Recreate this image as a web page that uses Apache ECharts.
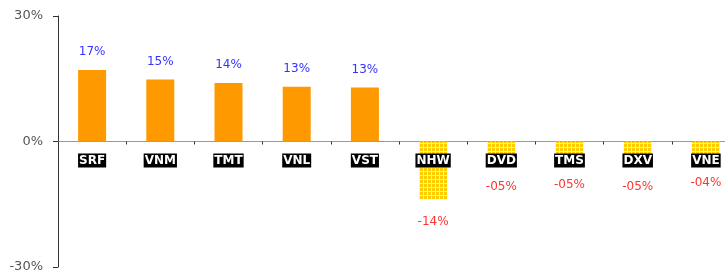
<!DOCTYPE html>
<html>
<head>
<meta charset="utf-8">
<script src="https://cdn.jsdelivr.net/npm/echarts@6/dist/echarts.min.js"></script>
<style>
  html, body { margin: 0; padding: 0; background: #fff; }
  #main { width: 725px; height: 272px; }
</style>
</head>
<body>
<div id="main"></div>
<script>
var tickers = ["SRF", "VNM", "TMT", "VNL", "VST", "NHW", "DVD", "TMS", "DXV", "VNE"];
var changes = [17.1, 14.8, 14.0, 13.1, 12.9, -13.8, -5.4, -4.8, -5.4, -4.3];
var yTicks = [-30, 0, 30];

// hatched yellow fill for the negative bars
var tile = document.createElement("canvas");
tile.width = 4;
tile.height = 4;
var ctx = tile.getContext("2d");
ctx.fillStyle = "#fff1a8";
ctx.fillRect(0, 0, 4, 4);
ctx.fillStyle = "#ffcc00";
ctx.fillRect(0, 0, 3, 3);

function pct(v) {
  var n = Math.round(Math.abs(v));
  var s = (n < 10 ? "0" : "") + n + "%";
  return v < 0 ? "-" + s : n + "%";
}

var barData = [], zeroData = [];
for (var i = 0; i < changes.length; i++) {
  var neg = changes[i] < 0;
  barData.push({
    value: changes[i],
    itemStyle: {
      color: neg ? { image: tile, repeat: "repeat" } : "#ff9900"
    },
    label: {
      position: neg ? "bottom" : "top",
      distance: neg ? 17 : 12,
      color: neg ? "#ff3333" : "#3333ff"
    }
  });
  zeroData.push([tickers[i], 0]);
}

var myChart = echarts.init(document.getElementById("main"));
var option = {
  animation: false,
  grid: { left: 58, right: -15, top: 16, bottom: 5, containLabel: false, outerBoundsMode: "none" },
  xAxis: {
    type: "category",
    data: tickers,
    axisLine: { onZero: true, lineStyle: { color: "#999", width: 1 } },
    axisTick: { show: true, length: 3, lineStyle: { color: "#333" } },
    axisLabel: { show: false }
  },
  yAxis: {
    type: "value",
    min: yTicks[0],
    max: yTicks[yTicks.length - 1],
    interval: 30,
    axisLine: { show: true, lineStyle: { color: "#333" } },
    axisTick: { show: true, length: 5, lineStyle: { color: "#333" } },
    splitLine: { show: false },
    axisLabel: {
      margin: 15,
      color: "#555",
      fontFamily: "DejaVu Sans",
      fontSize: 13,
      formatter: "{value}%"
    }
  },
  series: [{
    type: "bar",
    data: barData,
    barWidth: 28,
    label: {
      show: true,
      fontFamily: "DejaVu Sans",
      fontSize: 12,
      formatter: function (p) { return pct(p.value); }
    }
  }, {
    // ticker boxes sitting just under the zero line
    type: "scatter",
    data: zeroData,
    symbolSize: 0,
    z: 10,
    silent: true,
    itemStyle: { opacity: 1 },
    label: {
      show: true,
      position: "bottom",
      distance: 12,
      color: "#fff",
      fontFamily: "DejaVu Sans",
      fontWeight: "bold",
      fontSize: 12,
      backgroundColor: "#000",
      padding: [1, 1, 0, 1],
      lineHeight: 13,
      formatter: function (p) { return p.value[0]; }
    }
  }]
};
myChart.setOption(option);
</script>
</body>
</html>
